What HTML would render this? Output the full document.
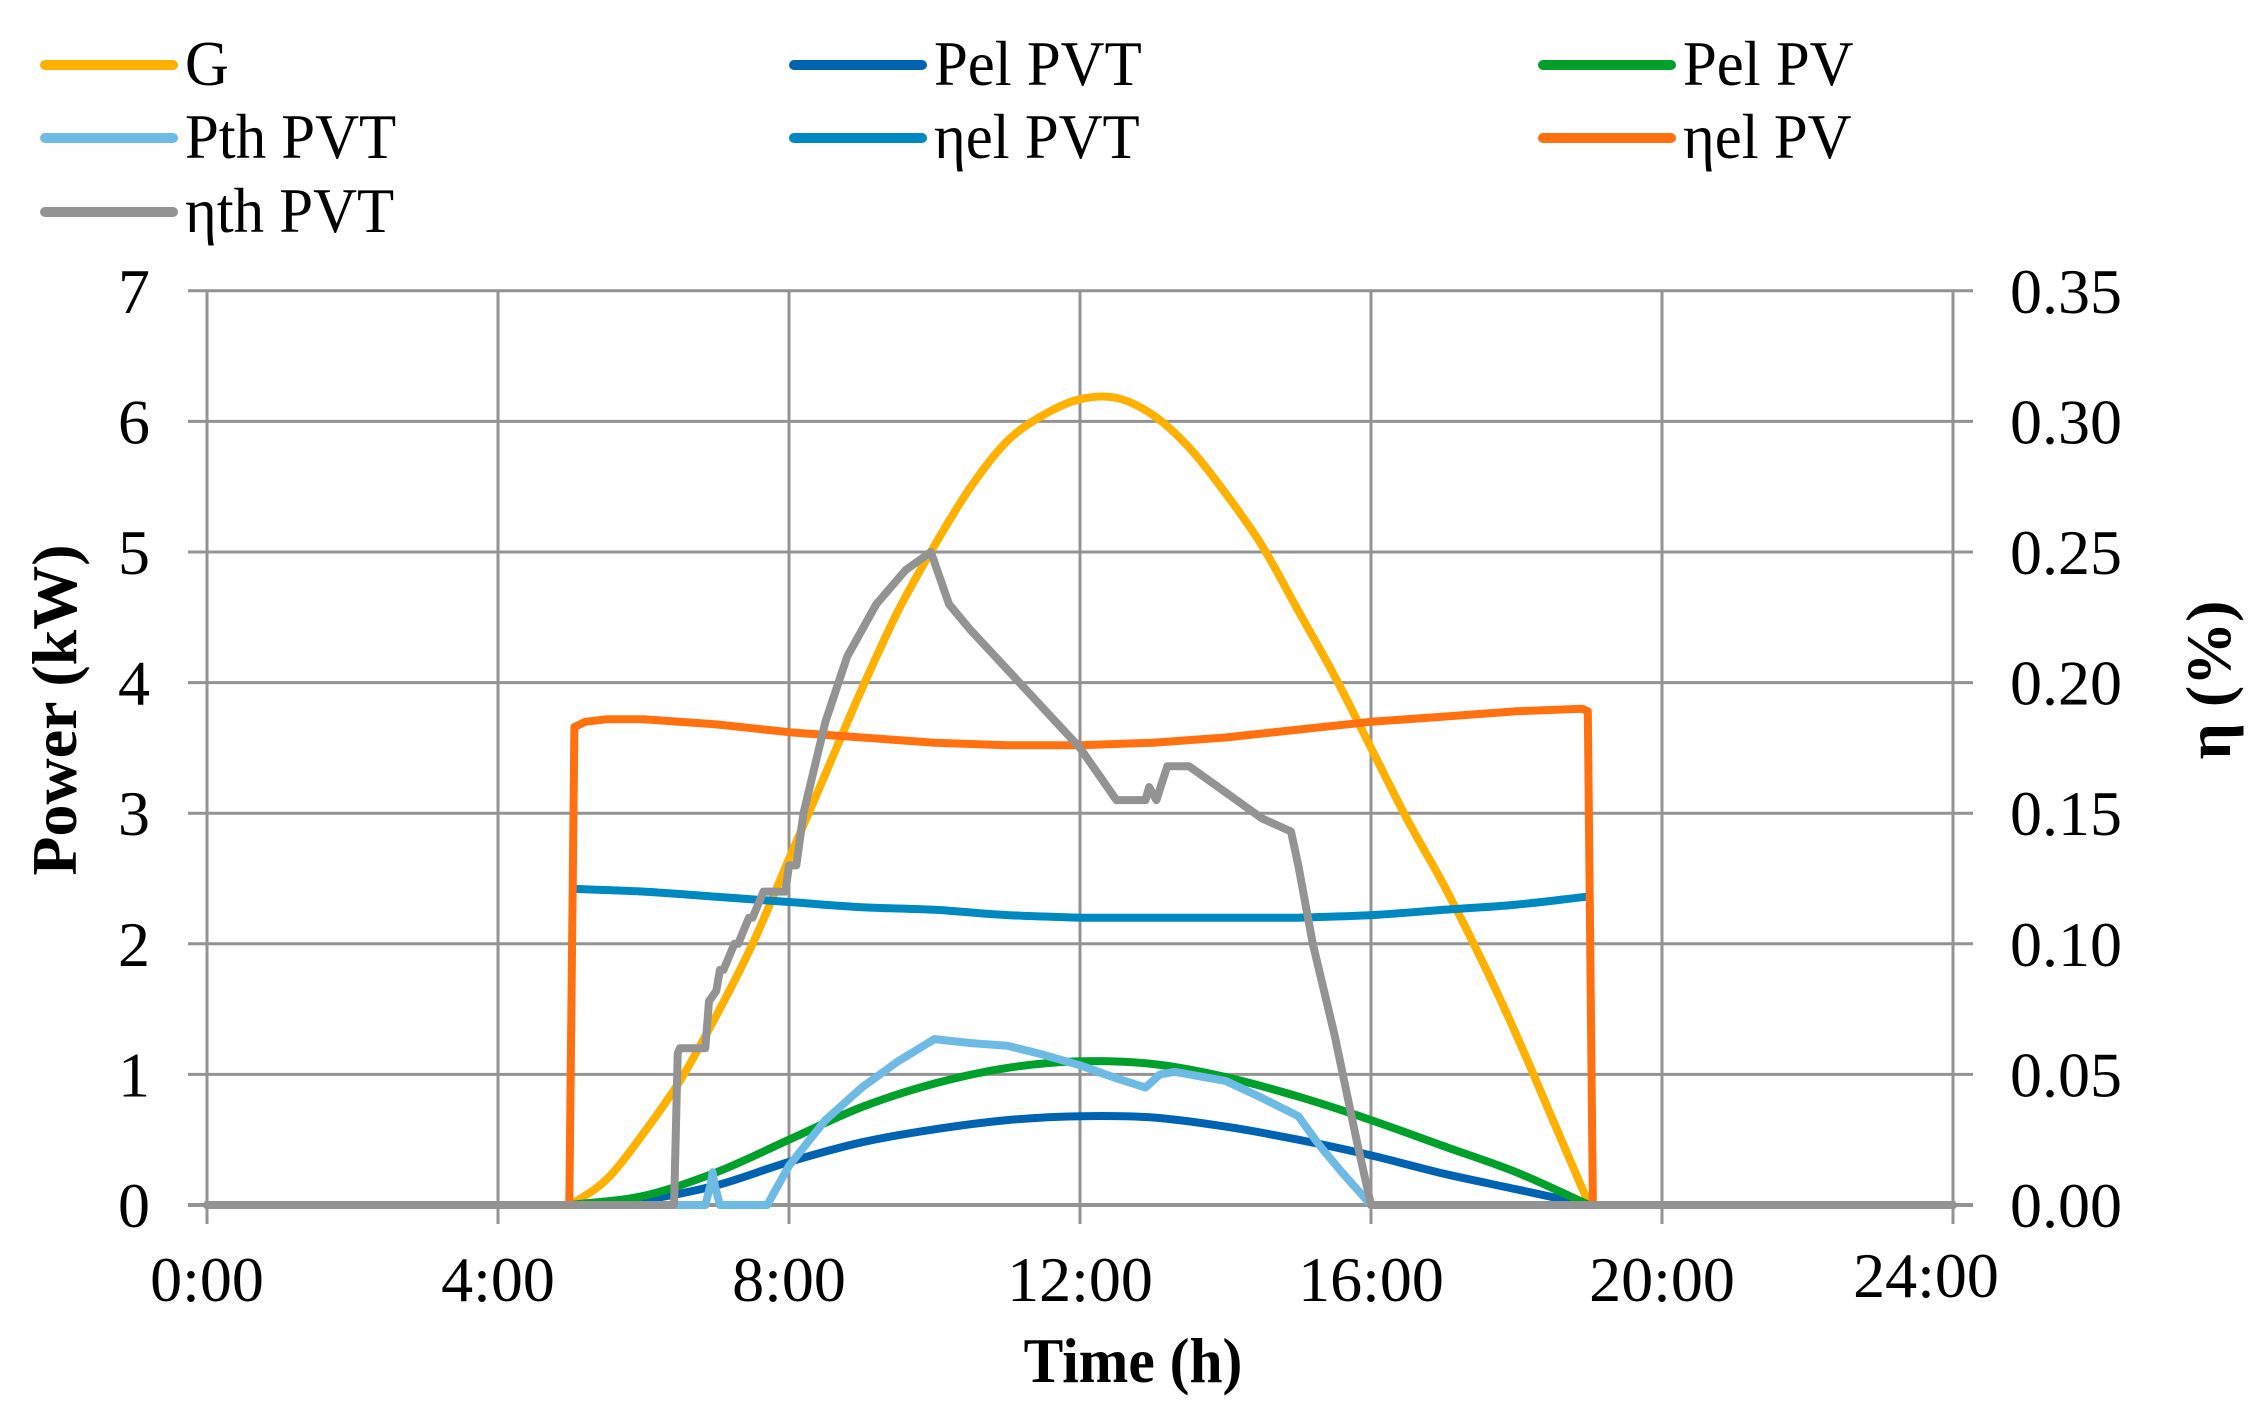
<!DOCTYPE html>
<html><head><meta charset="utf-8"><style>
html,body{margin:0;padding:0;background:#fff;}
svg{display:block;}
text{font-family:"Liberation Serif",serif;fill:#000;}
</style></head><body>
<svg id="chart" width="2249" height="1418" viewBox="0 0 2249 1418" xmlns="http://www.w3.org/2000/svg">
<g id="grid"></g>
<g id="series"></g>
<g id="axes"></g>
<g id="legend"></g>
<text x="1133" y="1382" font-size="64" font-weight="bold" text-anchor="middle" transform="translate(1133,0) scale(0.93,1) translate(-1133,0)">Time (h)</text>
<text x="0" y="0" font-size="64" font-weight="bold" text-anchor="middle" transform="translate(76,710) rotate(-90)">Power  (kW)</text>
<text x="0" y="0" font-size="64" font-weight="bold" text-anchor="middle" transform="translate(2230,680) rotate(-90)">η (%)</text>
</svg>
<script>
const xTicks = [0,4,8,12,16,20,24];
const xTickLabels = ["0:00","4:00","8:00","12:00","16:00","20:00","24:00"];
const yTicks = [0,1,2,3,4,5,6,7];
const y2TickLabels = ["0.00","0.05","0.10","0.15","0.20","0.25","0.30","0.35"];

const gHours = [0,5,5.5,6,6.5,7,7.5,8,8.5,9,9.5,10,10.5,11,11.5,12,12.5,13,13.5,14,14.5,15,15.5,16,16.5,17,17.5,18,18.5,19,24];
const gVals  = [0,0,0.2,0.55,0.95,1.45,2.0,2.65,3.3,3.95,4.55,5.05,5.5,5.85,6.05,6.17,6.18,6.05,5.8,5.45,5.05,4.55,4.05,3.5,2.95,2.45,1.9,1.3,0.65,0,0];

const pelHours = [0,5,6,7,8,9,10,11,12,13,14,15,16,17,18,19,24];
const pelPvtVals = [0,0,0.04,0.15,0.33,0.48,0.58,0.65,0.68,0.67,0.6,0.5,0.38,0.24,0.12,0,0];
const pelPvVals  = [0,0,0.07,0.25,0.5,0.75,0.93,1.05,1.1,1.08,0.98,0.83,0.65,0.45,0.25,0,0];

const pthHours = [0,6.85,6.92,6.95,6.98,7.05,7.7,8,8.5,9,9.5,10,10.5,11,11.5,12,12.5,12.9,13.1,13.3,14,14.5,15,15.3,15.6,16,24];
const pthVals  = [0,0,0.15,0.25,0.15,0,0,0.3,0.65,0.9,1.1,1.27,1.24,1.22,1.15,1.07,0.97,0.9,1.0,1.02,0.95,0.82,0.68,0.45,0.25,0,0];

const etaElPvtHours = [5.05,6,7,8,9,10,11,12,13,14,15,16,17,18,18.95];
const etaElPvtVals  = [0.121,0.12,0.118,0.116,0.114,0.113,0.111,0.11,0.11,0.11,0.11,0.111,0.113,0.115,0.118];

const etaElPvHours = [0,4.98,5.05,5.2,5.5,6,7,8,9,10,11,12,13,14,15,16,17,18,18.9,18.98,19.05,24];
const etaElPvVals  = [0,0,0.183,0.185,0.186,0.186,0.184,0.181,0.179,0.177,0.176,0.176,0.177,0.179,0.182,0.185,0.187,0.189,0.19,0.189,0,0];

const etaThHours = [0,6.42,6.47,6.5,6.85,6.9,7.0,7.05,7.1,7.25,7.3,7.45,7.5,7.65,7.7,7.95,8.0,8.1,8.2,8.5,8.8,9.2,9.6,9.95,10.2,10.5,11,11.5,12,12.5,12.9,12.95,13.05,13.2,13.5,14,14.5,14.9,15.0,15.2,15.5,15.8,16.0,24];
const etaThVals  = [0,0,0.058,0.06,0.06,0.078,0.082,0.09,0.09,0.1,0.1,0.11,0.11,0.12,0.12,0.12,0.13,0.13,0.15,0.185,0.21,0.23,0.243,0.25,0.23,0.22,0.205,0.19,0.175,0.155,0.155,0.16,0.155,0.168,0.168,0.158,0.148,0.143,0.13,0.1,0.065,0.025,0,0];

const X0=207, PXH=72.75, Y0=1205, PXK=130.6;
function xs(h){return X0+PXH*h;}
function ys(k){return Y0-PXK*k;}
function ys2(e){return ys(e*20);}
const NS="http://www.w3.org/2000/svg";
function mk(tag,attrs,parent){const e=document.createElementNS(NS,tag);for(const k in attrs)e.setAttribute(k,attrs[k]);parent.appendChild(e);return e;}

const grid=document.getElementById('grid');
const axes=document.getElementById('axes');
yTicks.forEach((v,i)=>{
  const l=mk('line',{x1:188,x2:1973,y1:ys(v),y2:ys(v),stroke:'#939393','stroke-width':v===0?4:3},grid);
  
  
  const t=mk('text',{x:150,y:ys(v)+22,'font-size':64,'text-anchor':'end'},axes);
  t.textContent=String(v);
  
  
  const t2=mk('text',{x:2010,y:ys(v)+22,'font-size':64},axes);
  t2.textContent=y2TickLabels[i];
  
  
});
xTicks.forEach((h,i)=>{
  const l=mk('line',{x1:xs(h),x2:xs(h),y1:ys(7),y2:1224,stroke:'#939393','stroke-width':3},grid);
  
  
  const last=i===xTicks.length-1;
  const t=mk('text',{x:last?xs(h)-27:xs(h),y:last?1297:1301,'font-size':64,'text-anchor':'middle'},axes);
  t.textContent=xTickLabels[i];
  
  
});

const ser=document.getElementById('series');
function pathD(hs,vs,yf,smooth){
  const P=hs.map((h,i)=>[xs(h),yf(vs[i])]);
  const n=P.length;
  function segSlope(i){ // slope of segment i -> i+1, or null if flat/missing
    if(i<0||i>=n-1) return null;
    if(P[i][1]===P[i+1][1]) return null;
    return (P[i+1][1]-P[i][1])/(P[i+1][0]-P[i][0]);
  }
  const m=P.map((p,i)=>{
    const a=segSlope(i-1), b=segSlope(i);
    if(a===null&&b===null) return 0;
    if(a===null) return b;
    if(b===null) return a;
    return (a+b)/2;
  });
  let d='M'+P[0][0].toFixed(1)+','+P[0][1].toFixed(1);
  for(let i=1;i<n;i++){
    const p1=P[i-1],p2=P[i];
    if(smooth && p1[1]!==p2[1]){
      const dx=(p2[0]-p1[0])/3;
      const c1=[p1[0]+dx,p1[1]+m[i-1]*dx];
      const c2=[p2[0]-dx,p2[1]-m[i]*dx];
      d+=' C'+c1[0].toFixed(1)+','+c1[1].toFixed(1)+' '+c2[0].toFixed(1)+','+c2[1].toFixed(1)+' '+p2[0].toFixed(1)+','+p2[1].toFixed(1);
    } else d+=' L'+p2[0].toFixed(1)+','+p2[1].toFixed(1);
  }
  return d;
}
function line(hs,vs,yf,color,name,smooth){
  const p=mk('path',{d:pathD(hs,vs,yf,smooth),fill:'none',stroke:color,'stroke-width':8,'stroke-linejoin':'round','stroke-linecap':'round'},ser);
  
  
}
line(gHours,gVals,ys,'#ffb000','series-g',true);
line(pelHours,pelPvtVals,ys,'#0063b1','series-pel-pvt',true);
line(pelHours,pelPvVals,ys,'#00a02a','series-pel-pv',true);
line(pthHours,pthVals,ys,'#6dbbe5','series-pth-pvt',false);
line(etaElPvtHours,etaElPvtVals,ys2,'#0088c0','series-eta-el-pvt',true);
line(etaElPvHours,etaElPvVals,ys2,'#ff7010','series-eta-el-pv',false);
line(etaThHours,etaThVals,ys2,'#939393','series-eta-th-pvt',false);

const legendItems=[["G","#ffb000",41,65],["Pel PVT","#0063b1",790,65],["Pel PV","#00a02a",1539,65],
["Pth PVT","#6dbbe5",41,138],["ηel PVT","#0088c0",790,138],["ηel PV","#ff7010",1539,138],["ηth PVT","#939393",41,212]];
const lg=document.getElementById('legend');
legendItems.forEach(it=>{
  const g=mk('g',{},lg);
  
  
  mk('line',{x1:it[2]+4,x2:it[2]+132,y1:it[3],y2:it[3],stroke:it[1],'stroke-width':10,'stroke-linecap':'round'},g);
  const t=mk('text',{x:0,y:it[3]+20,'font-size':64,transform:'translate('+(it[2]+144)+',0) scale(0.95,1)'},g);
  t.textContent=it[0];
});
</script>
</body></html>
